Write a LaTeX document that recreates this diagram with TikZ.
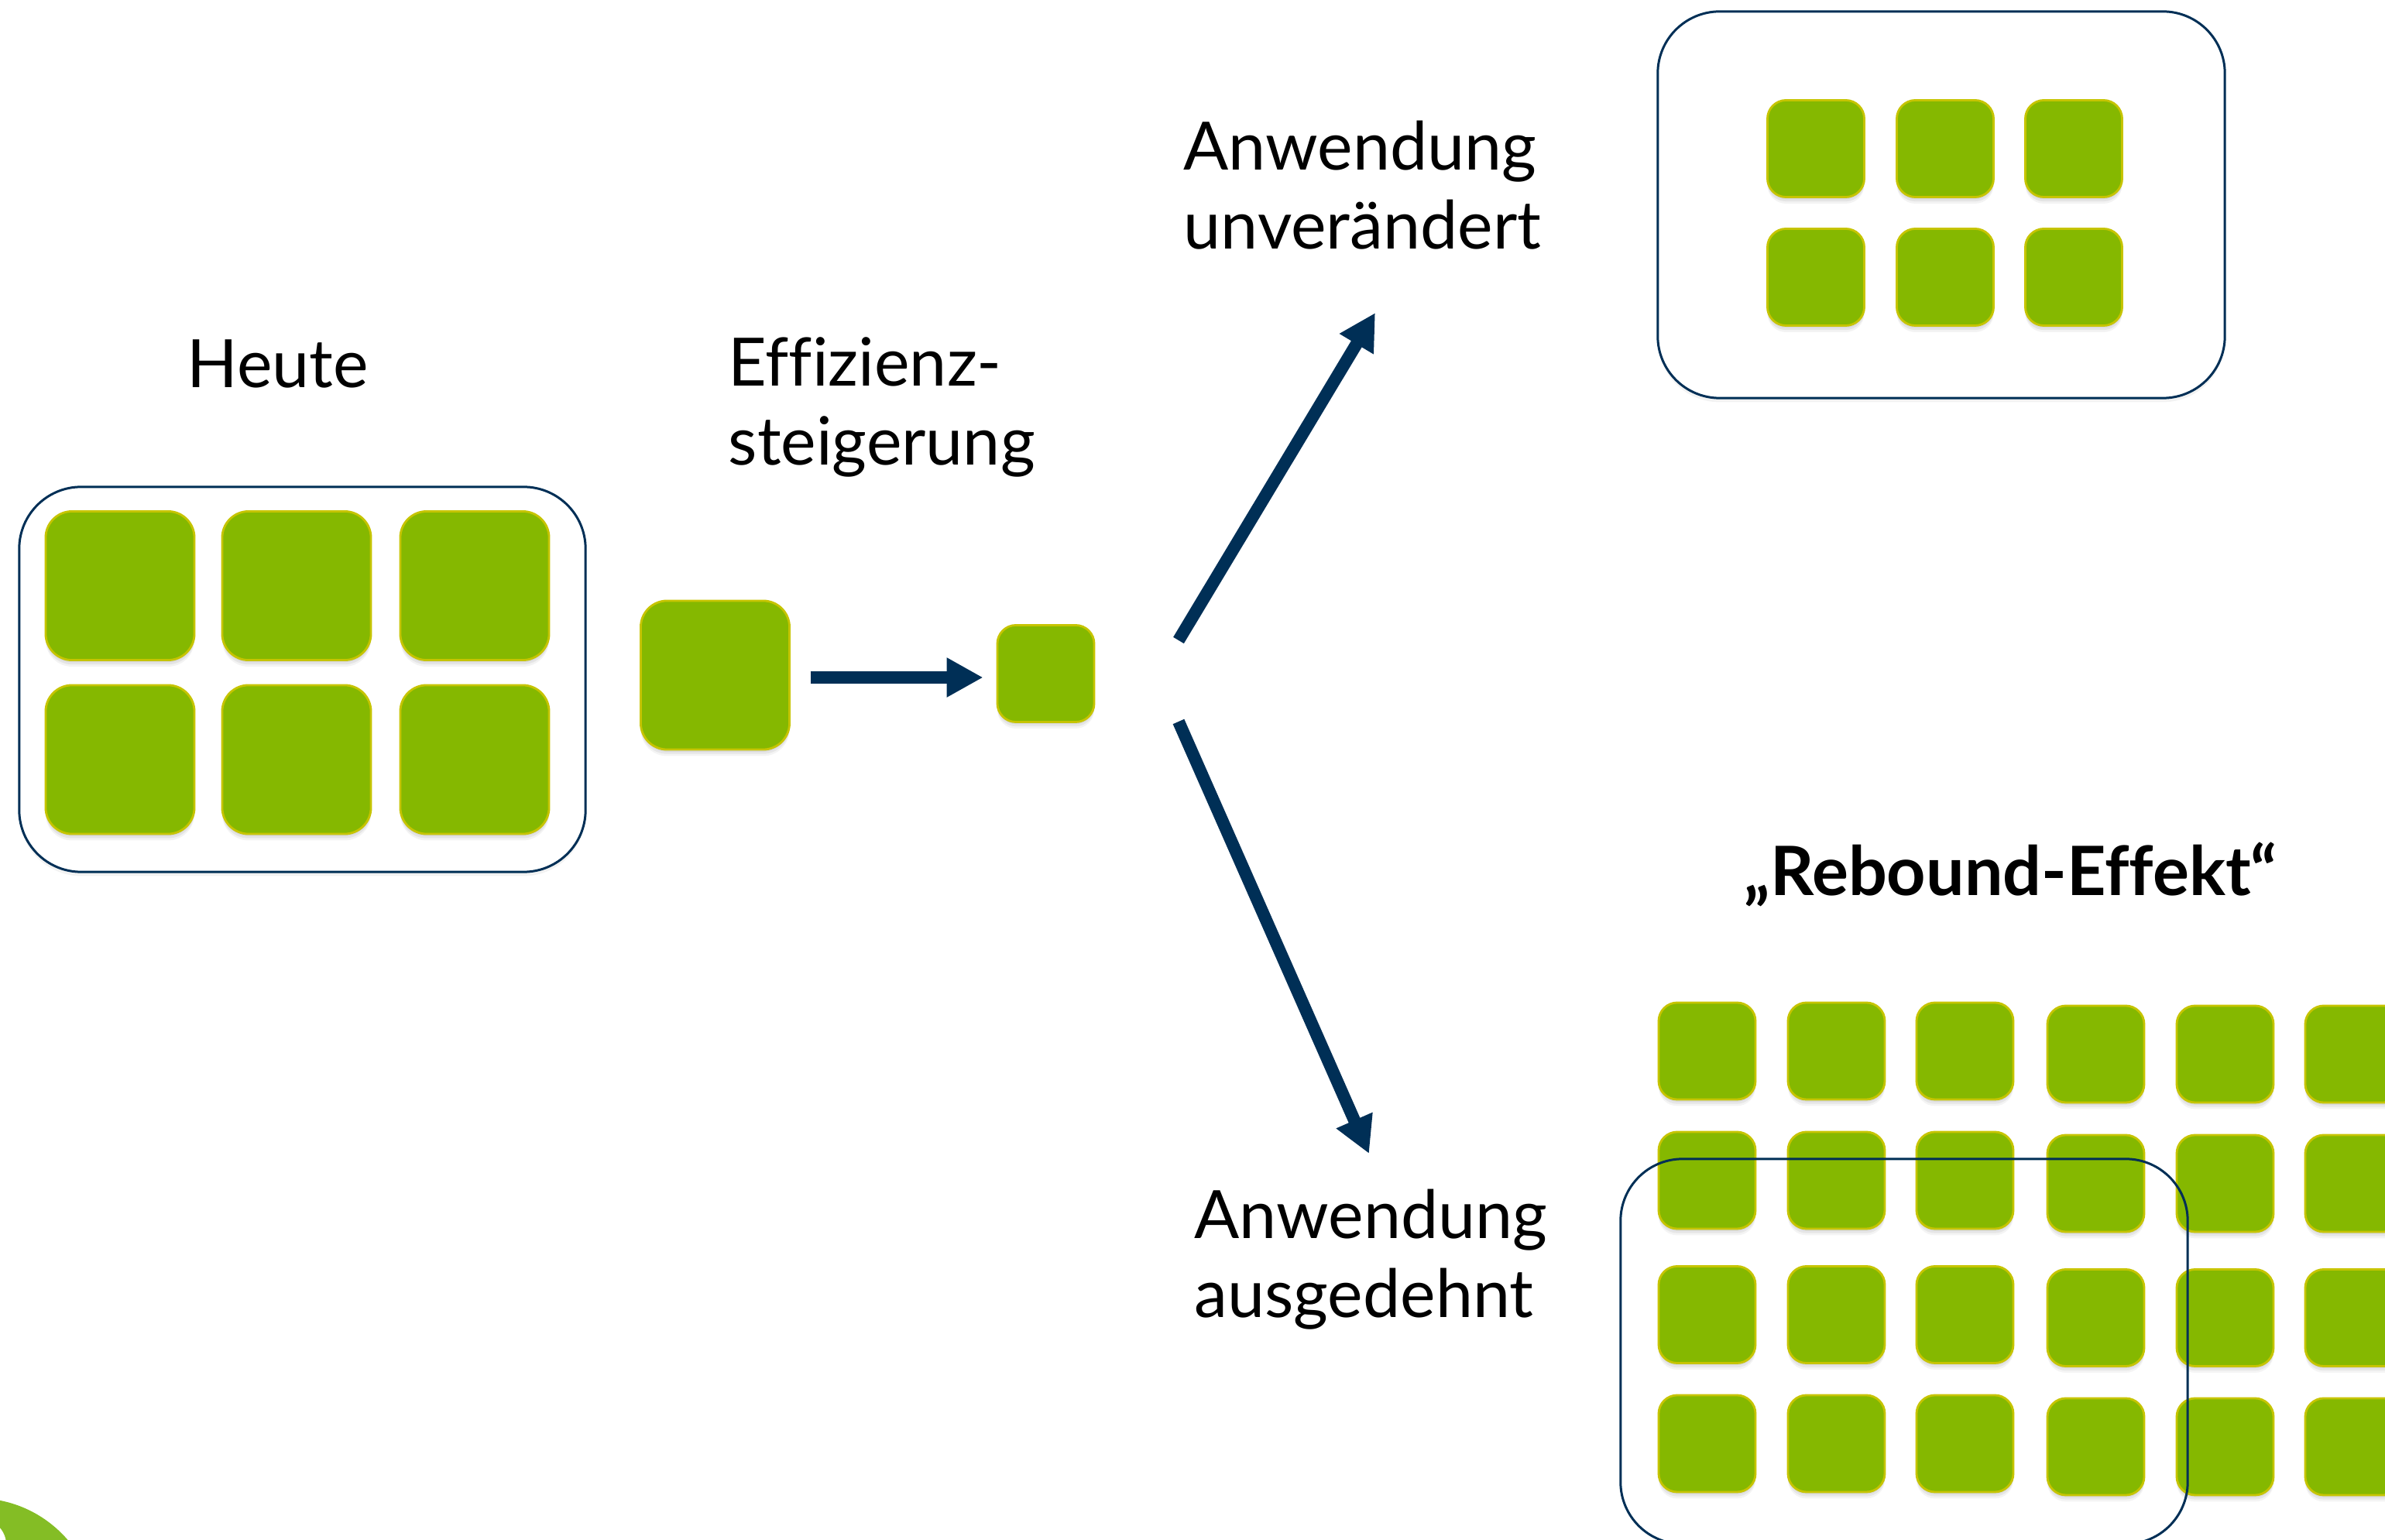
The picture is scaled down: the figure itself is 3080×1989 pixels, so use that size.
\documentclass[tikz,border=0pt]{standalone}
\usepackage{fontspec}
\setmainfont{Lato}[Ligatures=CommonOff]
\usetikzlibrary{arrows.meta,shadows}
\definecolor{tilegreen}{RGB}{133,184,0}
\definecolor{tileedge}{RGB}{198,196,0}
\definecolor{navy}{RGB}{0,47,86}
\definecolor{logogreen}{RGB}{132,189,37}
\tikzset{
  softshadow/.style={
    drop shadow={opacity=0.12,shadow xshift=0pt,shadow yshift=-0.8pt},
    drop shadow={opacity=0.12,shadow xshift=0pt,shadow yshift=-1.6pt},
    drop shadow={opacity=0.09,shadow xshift=0pt,shadow yshift=-2.4pt}},
  tilebase/.style={rectangle, inner sep=0pt, fill=tilegreen, draw=tileedge,
    line width=0.8pt, softshadow},
  bigtile/.style={tilebase, minimum size=1.92cm, rounded corners=0.34cm},
  smalltile/.style={tilebase, minimum size=1.25cm, rounded corners=0.24cm},
  frame/.style={rectangle, inner sep=0pt, draw=navy, line width=0.85pt,
    rounded corners=0.8cm, minimum width=7.31cm, minimum height=4.97cm},
  framefilled/.style={frame, fill=white,
    drop shadow={opacity=0.10,shadow xshift=0pt,shadow yshift=-1.5pt}},
  lbl/.style={inner sep=0pt, anchor=base west,
    font=\fontsize{24.5pt}{29pt}\selectfont},
  lbltwo/.style={lbl, text width=6cm, align=left},
  lblbold/.style={inner sep=0pt, anchor=base west,
    font=\fontsize{25pt}{30pt}\selectfont\bfseries},
  arr/.style={draw=navy, line width=0.16cm,
    -{Triangle[length=0.47cm,width=0.48cm]}}
}
\begin{document}
\begin{tikzpicture}[x=0.01cm,y=-0.01cm]
\useasboundingbox (0,0) rectangle (3080,1989);
\clip (0,0) rectangle (3080,1989);

% logo fragment bottom left
\fill[logogreen] (-30,2090) circle (155);
\fill[white] (-25,1995) circle (33);

% Heute
\node[framefilled] (leftframe) at (390.5,877.5) {};
\foreach \c/\x in {1/155,2/383,3/613}{
  \foreach \r/\y in {1/756.5,2/981}{
    \node[bigtile] (l\r\c) at (\x,\y) {};
  }
}
\node[lbl] (heute) at (241,501) {Heute};

% Effizienzsteigerung
\node[bigtile] (midbig) at (923.5,872) {};
\node[smalltile] (midsmall) at (1350.5,870) {};
\draw[arr, shorten <=0.26cm, shorten >=0.17cm]
  ([yshift=-0.03cm]midbig.east) -- ([yshift=-0.03cm]midbig.east -| midsmall.west);
\node[lbltwo] (eff) at (940,499) {Effizienz-\\steigerung};

% branches
\coordinate (upstart) at (1522,827);
\coordinate (upend) at (1776,404);
\coordinate (downstart) at (1522,932);
\coordinate (downend) at (1768,1490);
\draw[arr] (upstart) -- (upend);
\draw[arr] (downstart) -- (downend);

\node[lbltwo] (unv) at (1528,220) {Anwendung\\unverändert};
\node[lbltwo] (aus) at (1542,1600) {Anwendung\\ausgedehnt};

% top right
\node[framefilled, minimum width=7.32cm, minimum height=4.99cm] (topframe) at (2507,264.5) {};
\foreach \c/\x in {1/2345,2/2512,3/2678}{
  \foreach \r/\y in {1/192,2/358}{
    \node[smalltile] (t\r\c) at (\x,\y) {};
  }
}

% rebound
\node[lblbold] (reb) at (2252,1157) {„Rebound-Effekt“};
\foreach \c/\x/\d in {1/2204.5/0,2/2371.5/0,3/2537.5/0,4/2706.5/4,5/2873.5/4,6/3039.5/4}{
  \foreach \r/\y in {1/1357.5,2/1524.5,3/1698,4/1864.5}{
    \node[smalltile] (b\r\c) at (\x,\y+\d) {};
  }
}
\node[frame, minimum width=7.32cm] (rebframe) at (2459,1745.5) {};
\end{tikzpicture}
\end{document}
